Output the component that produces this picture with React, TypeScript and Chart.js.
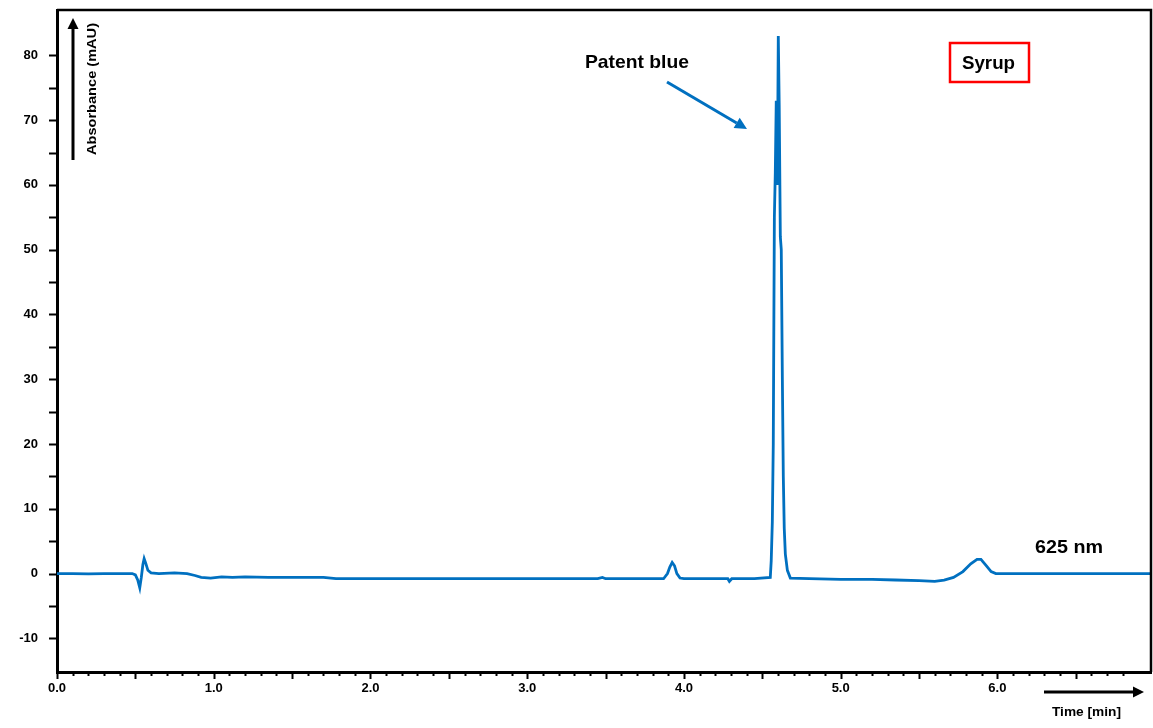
import React, { useEffect, useRef } from 'react';
import { Chart, registerables } from 'chart.js';

Chart.register(...registerables);

// Retention time (min)
const timeMin: number[] = [
  0.0, 0.1, 0.2, 0.3, 0.4, 0.48, 0.5, 0.515, 0.528, 0.538, 0.548, 0.556, 0.566, 0.58, 0.6, 0.65, 0.75, 0.83,
  0.88, 0.92, 0.98, 1.05, 1.12, 1.2, 1.35, 1.5, 1.7, 1.78, 2.0, 2.4, 2.8, 3.2, 3.45, 3.48, 3.5, 3.8, 3.87,
  3.895, 3.91, 3.925, 3.94, 3.955, 3.975, 4.0, 4.2, 4.28, 4.29, 4.305, 4.45, 4.551,
  4.557, 4.564, 4.57, 4.577, 4.583, 4.589, 4.596, 4.602, 4.608, 4.615, 4.621, 4.628, 4.634, 4.64, 4.647,
  4.66, 4.679, 4.8, 5.0, 5.2, 5.35, 5.5, 5.6, 5.66, 5.72, 5.78, 5.83, 5.87, 5.895, 5.93, 5.96, 5.99, 6.2,
  6.5, 6.98,
];

// Absorbance (mAU) at 625 nm
const absorbance: number[] = [
  0.0, 0.0, -0.05, 0.0, 0.0, 0.0, -0.2, -1.0, -2.2, -0.6, 1.4, 2.3, 1.6, 0.5, 0.1, 0.0, 0.1, 0.0,
  -0.3, -0.6, -0.7, -0.5, -0.6, -0.5, -0.6, -0.6, -0.6, -0.8, -0.8, -0.8, -0.8, -0.8, -0.8, -0.6, -0.8, -0.8, -0.8,
  0.0, 1.0, 1.7, 1.2, 0.0, -0.7, -0.8, -0.8, -0.8, -1.2, -0.8, -0.8, -0.6,
  2, 8, 20, 55, 62, 73, 60, 83, 72, 52, 50, 30, 15, 7, 3,
  0.5, -0.7, -0.8, -0.9, -0.9, -1.0, -1.1, -1.2, -1.0, -0.6, 0.3, 1.5, 2.2, 2.2, 1.2, 0.3, 0.0, 0.0,
  0.0, 0.0,
];

const xMin = 0;
const xMax = 6.98;
const yMin = -15.2;
const yMax = 87;

const peakLabel = 'Patent blue';
const sampleLabel = 'Syrup';
const wavelengthLabel = '625 nm';
const yTitle = 'Absorbance (mAU)';
const xTitle = 'Time [min]';

const LINE_BLUE = '#0070C0';
const FONT = '"Liberation Sans", Arial, sans-serif';

function fitText(ctx: CanvasRenderingContext2D, text: string, x: number, y: number, width: number, font: string, color: string) {
  ctx.save();
  ctx.font = font;
  ctx.fillStyle = color;
  ctx.textAlign = 'left';
  ctx.textBaseline = 'alphabetic';
  const w = ctx.measureText(text).width;
  ctx.translate(x, y);
  ctx.scale(width / w, 1);
  ctx.fillText(text, 0, 0);
  ctx.restore();
}

function arrow(ctx: CanvasRenderingContext2D, x1: number, y1: number, x2: number, y2: number, color: string, lw: number, head: number, headW: number) {
  const ang = Math.atan2(y2 - y1, x2 - x1);
  const bx = x2 - head * Math.cos(ang);
  const by = y2 - head * Math.sin(ang);
  ctx.save();
  ctx.strokeStyle = color;
  ctx.fillStyle = color;
  ctx.lineWidth = lw;
  ctx.beginPath();
  ctx.moveTo(x1, y1);
  ctx.lineTo(bx, by);
  ctx.stroke();
  ctx.beginPath();
  ctx.moveTo(x2, y2);
  ctx.lineTo(bx + headW * Math.sin(ang), by - headW * Math.cos(ang));
  ctx.lineTo(bx - headW * Math.sin(ang), by + headW * Math.cos(ang));
  ctx.closePath();
  ctx.fill();
  ctx.restore();
}

const decorPlugin = {
  id: 'decor',
  afterDraw(chart: any) {
    const ctx: CanvasRenderingContext2D = chart.ctx;
    const { left, right, top, bottom } = chart.chartArea;
    const xs = chart.scales.x;
    const ys = chart.scales.y;
    ctx.save();
    // frame top / right
    ctx.strokeStyle = '#000';
    ctx.lineWidth = 2.5;
    ctx.beginPath();
    ctx.moveTo(left, top);
    ctx.lineTo(right, top);
    ctx.lineTo(right, bottom);
    ctx.stroke();

    // x tick marks
    ctx.lineWidth = 2;
    xs.ticks.forEach((t: any) => {
      const v10 = t.value * 10;
      const r = Math.round(v10);
      if (Math.abs(v10 - r) > 1e-6) return;
      const len = r % 5 === 0 ? 7 : 4;
      const px = Math.round(xs.getPixelForValue(t.value)) + 0.5;
      ctx.beginPath();
      ctx.moveTo(px, bottom);
      ctx.lineTo(px, bottom + len);
      ctx.stroke();
    });
    // y tick marks
    ys.ticks.forEach((t: any) => {
      const v5 = t.value / 5;
      if (Math.abs(v5 - Math.round(v5)) > 1e-6) return;
      const py = Math.round(ys.getPixelForValue(t.value)) + 0.5;
      ctx.beginPath();
      ctx.moveTo(left - 8, py);
      ctx.lineTo(left, py);
      ctx.stroke();
    });
    ctx.restore();

    // y axis title with arrow
    arrow(ctx, 73, 160, 73, 18, '#000', 3, 11, 5.5);
    ctx.save();
    ctx.translate(96, 155);
    ctx.rotate(-Math.PI / 2);
    fitText(ctx, yTitle, 0, 0, 132, `bold 13px ${FONT}`, '#000');
    ctx.restore();

    // x axis title with arrow
    arrow(ctx, 1044, 692, 1144, 692, '#000', 3, 11, 5.5);
    fitText(ctx, xTitle, 1052, 716, 69, `bold 12px ${FONT}`, '#000');

    // annotations
    fitText(ctx, peakLabel, 585, 68, 104, `bold 19px ${FONT}`, '#000');
    arrow(ctx, 667, 82, 747, 129, LINE_BLUE, 3, 12, 6);

    ctx.save();
    ctx.strokeStyle = '#FF0000';
    ctx.lineWidth = 2.5;
    ctx.strokeRect(950, 43, 79, 39);
    ctx.restore();
    fitText(ctx, sampleLabel, 962, 69, 53, `bold 19px ${FONT}`, '#000');

    fitText(ctx, wavelengthLabel, 1035, 553, 68, `bold 18px ${FONT}`, '#000');
  },
};

function zeroPadding(s: any) {
  s.paddingTop = 0;
  s.paddingBottom = 0;
  s.paddingLeft = 0;
  s.paddingRight = 0;
}

export default function App() {
  const canvasRef = useRef<HTMLCanvasElement | null>(null);

  useEffect(() => {
    if (!canvasRef.current) return;
    const data = timeMin.map((t, i) => ({ x: t, y: absorbance[i] }));
    const chart = new Chart(canvasRef.current, {
      type: 'line',
      data: {
        datasets: [
          {
            data,
            borderColor: LINE_BLUE,
            borderWidth: 2.8,
            pointRadius: 0,
            tension: 0,
            fill: false,
          },
        ],
      },
      options: {
        animation: false,
        responsive: true,
        maintainAspectRatio: false,
        layout: { padding: { top: 10, right: 2, left: 0, bottom: 0 } },
        plugins: { legend: { display: false }, tooltip: { enabled: false } },
        scales: {
          x: {
            type: 'linear',
            min: xMin,
            max: xMax,
            grid: { display: false, drawTicks: false },
            border: { display: true, color: '#000', width: 3 },
            ticks: {
              stepSize: 0.1,
              autoSkip: false,
              maxRotation: 0,
              minRotation: 0,
              padding: 9,
              color: '#000',
              font: { family: FONT, size: 13, weight: 'bold' },
              callback: (v: any) => {
                const n = Number(v);
                return Math.abs(n - Math.round(n)) < 1e-6 ? n.toFixed(1) : '';
              },
            },
            afterFit: (s: any) => {
              s.height = 56;
              zeroPadding(s);
            },
          },
          y: {
            min: yMin,
            max: yMax,
            grid: { display: false, drawTicks: false },
            border: { display: true, color: '#000', width: 3 },
            ticks: {
              stepSize: 5,
              autoSkip: false,
              padding: 19,
              color: '#000',
              font: { family: FONT, size: 13, weight: 'bold' },
              callback: (v: any) => {
                const n = Number(v);
                return Math.abs(n / 10 - Math.round(n / 10)) < 1e-6 ? String(Math.round(n)) : '';
              },
            },
            afterFit: (s: any) => {
              s.width = 57;
              zeroPadding(s);
            },
          },
        },
      },
      plugins: [decorPlugin],
    });
    return () => chart.destroy();
  }, []);

  return (
    <div style={{ position: 'fixed', left: 0, top: 0, width: 1153, height: 728, background: '#fff' }}>
      <canvas ref={canvasRef} />
    </div>
  );
}
